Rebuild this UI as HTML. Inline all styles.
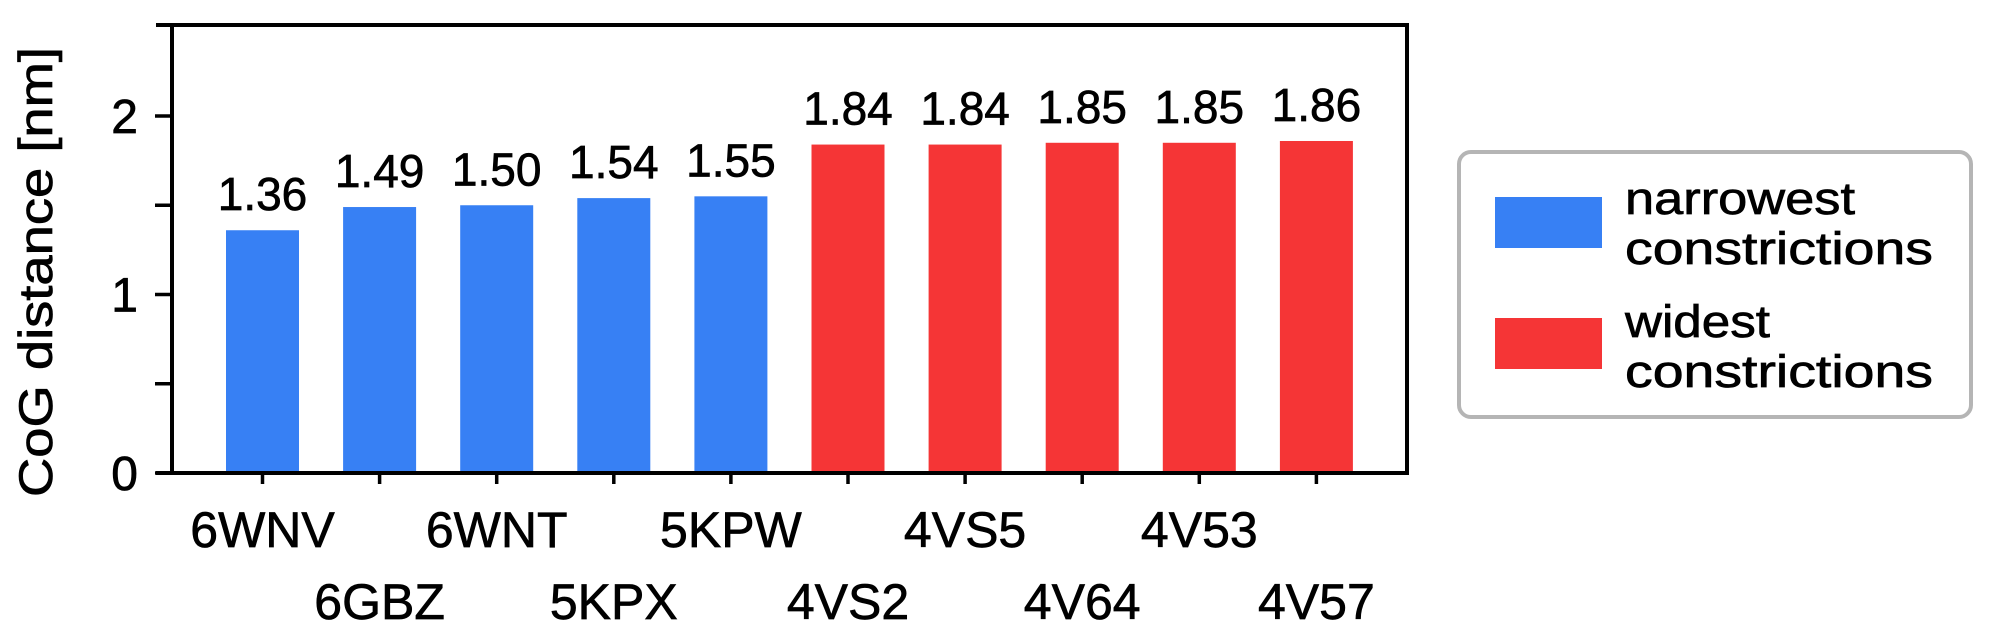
<!DOCTYPE html>
<html><head><meta charset="utf-8"><style>
html,body{margin:0;padding:0;background:#fff;}
svg{display:block;font-family:"Liberation Sans",sans-serif;}
svg text{stroke:#000;stroke-width:0.7px;fill:#000;}
</style></head><body>
<svg id="chart" width="2000" height="641" viewBox="0 0 2000 641" xmlns="http://www.w3.org/2000/svg">
<g id="bars"></g>
<g id="axes"></g>
<text transform="translate(52,272) rotate(-90)" text-anchor="middle" font-size="47" textLength="450" lengthAdjust="spacingAndGlyphs">CoG distance [nm]</text>
<g>
<rect x="1459" y="152" width="512" height="265" rx="12" fill="#fff" stroke="#b5b5b5" stroke-width="4"/>
<rect x="1495" y="197" width="107" height="51" fill="#3780f4"/>
<text x="1625" y="214" font-size="45" textLength="230" lengthAdjust="spacingAndGlyphs">narrowest</text>
<text x="1625" y="264" font-size="45" textLength="308" lengthAdjust="spacingAndGlyphs">constrictions</text>
<rect x="1495" y="318" width="107" height="51" fill="#f53536"/>
<text x="1625" y="337" font-size="45" textLength="145" lengthAdjust="spacingAndGlyphs">widest</text>
<text x="1625" y="387" font-size="45" textLength="308" lengthAdjust="spacingAndGlyphs">constrictions</text>
</g>
</svg>
<script>
const categories = ["6WNV","6GBZ","6WNT","5KPX","5KPW","4VS2","4VS5","4V64","4V53","4V57"];
const values = [1.36,1.49,1.50,1.54,1.55,1.84,1.84,1.85,1.85,1.86];
const groups = ["narrow","narrow","narrow","narrow","narrow","wide","wide","wide","wide","wide"];
const yTicks = [0,0.5,1,1.5,2];
const yTickLabels = ["0","","1","","2"];

const NS = "http://www.w3.org/2000/svg";
const y0 = 473, pxPerUnit = 178.5;
function yScale(v){ return y0 - v * pxPerUnit; }
function xCenter(i){ return 262.5 + i * 117.1; }
const barW = 73;
const colors = {narrow:"#3780f4", wide:"#f53536"};

function mk(tag, attrs, parent){
  const el = document.createElementNS(NS, tag);
  for (const k in attrs) el.setAttribute(k, attrs[k]);
  parent.appendChild(el);
  return el;
}
const barsG = document.getElementById("bars");
const axesG = document.getElementById("axes");

values.forEach((v, i) => {
  const r = mk("rect", {x: xCenter(i) - barW/2, y: yScale(v), width: barW, height: y0 - yScale(v), fill: colors[groups[i]]}, barsG);
  
  
  const t = mk("text", {x: xCenter(i), y: yScale(v) - 20, "text-anchor": "middle", "font-size": "46"}, barsG);
  t.textContent = v.toFixed(2);
  
  
  const tick = mk("line", {x1: xCenter(i), x2: xCenter(i), y1: y0, y2: y0 + 11, stroke: "#000", "stroke-width": "3.5"}, axesG);
  
  
  const lab = mk("text", {x: xCenter(i), y: (i % 2 === 0) ? 547 : 619, "text-anchor": "middle", "font-size": "50"}, axesG);
  lab.textContent = categories[i];
  
  
});

yTicks.forEach((v, i) => {
  const tk = mk("line", {x1: 155, x2: 172, y1: yScale(v), y2: yScale(v), stroke: "#000", "stroke-width": "3.5"}, axesG);
  
  
  if (yTickLabels[i]) {
    const t = mk("text", {x: 138, y: yScale(v) + 17, "text-anchor": "end", "font-size": "48"}, axesG);
    t.textContent = yTickLabels[i];
    
    
  }
});

const frame = [
  ["top-border", 156, 25, 1409, 25],
  ["x-axis", 156, 473, 1409, 473],
  ["y-axis", 172, 23, 172, 475],
  ["right-border", 1407, 23, 1407, 475]
];
frame.forEach(f => {
  const l = mk("line", {x1: f[1], y1: f[2], x2: f[3], y2: f[4], stroke: "#000", "stroke-width": "4"}, axesG);
  
  
});
</script>
</body></html>
